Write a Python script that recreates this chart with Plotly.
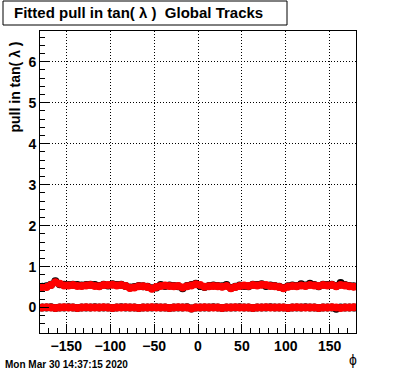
import plotly.graph_objects as go

phi_centers = [-177.5 + 5 * i for i in range(72)]

pull_mean_red = [0.50, 0.50, 0.55, 0.62, 0.58, 0.54, 0.54, 0.55, 0.53, 0.53,
                 0.54, 0.55, 0.53, 0.52, 0.55, 0.55, 0.56, 0.54, 0.55, 0.53,
                 0.48, 0.49, 0.52, 0.52, 0.50, 0.46, 0.50, 0.53, 0.54, 0.53,
                 0.52, 0.53, 0.49, 0.52, 0.54, 0.57, 0.55, 0.51, 0.52, 0.53,
                 0.52, 0.51, 0.53, 0.47, 0.50, 0.53, 0.54, 0.53, 0.55, 0.54,
                 0.56, 0.55, 0.53, 0.52, 0.50, 0.47, 0.51, 0.53, 0.52, 0.54,
                 0.53, 0.55, 0.54, 0.53, 0.55, 0.54, 0.55, 0.52, 0.55, 0.54,
                 0.52, 0.51]

pull_mean_black = [0.51, 0.52, 0.56, 0.64, 0.57, 0.56, 0.55, 0.56, 0.55, 0.54,
                   0.55, 0.56, 0.55, 0.53, 0.56, 0.54, 0.57, 0.55, 0.56, 0.53,
                   0.49, 0.50, 0.53, 0.52, 0.51, 0.47, 0.49, 0.55, 0.53, 0.54,
                   0.53, 0.52, 0.47, 0.53, 0.55, 0.58, 0.53, 0.50, 0.53, 0.54,
                   0.53, 0.52, 0.55, 0.48, 0.51, 0.54, 0.53, 0.52, 0.56, 0.55,
                   0.57, 0.53, 0.54, 0.53, 0.51, 0.48, 0.52, 0.54, 0.53, 0.57,
                   0.54, 0.58, 0.55, 0.52, 0.56, 0.55, 0.56, 0.53, 0.60, 0.55,
                   0.53, 0.52]

pull_zero_red = [0.00, 0.01, 0.00, -0.01, 0.00, 0.01, 0.00, 0.00, -0.01, 0.00,
                 0.01, 0.00, 0.00, 0.00, 0.01, 0.00, -0.01, 0.00, 0.00, 0.01,
                 0.00, 0.00, -0.01, 0.00, 0.00, 0.01, 0.00, 0.00, 0.00, -0.01,
                 0.00, 0.01, 0.00, 0.00, -0.02, 0.00, 0.00, 0.01, 0.00, 0.00,
                 0.00, -0.01, 0.00, 0.00, 0.01, 0.00, 0.00, 0.00, -0.01, 0.00,
                 0.00, 0.01, 0.00, 0.00, 0.00, 0.00, -0.01, 0.00, 0.01, 0.00,
                 0.00, 0.00, 0.00, -0.01, 0.00, 0.00, 0.01, 0.00, -0.01, 0.00,
                 0.00, 0.01]

pull_zero_black = [0.00, 0.00, 0.01, -0.01, 0.00, 0.00, 0.01, 0.00, -0.01, 0.00,
                   0.00, 0.00, 0.01, 0.00, 0.00, 0.00, -0.01, 0.00, 0.01, 0.00,
                   0.00, 0.00, -0.01, 0.00, 0.00, 0.00, 0.01, 0.00, 0.00, -0.01,
                   0.00, 0.00, 0.00, 0.01, -0.02, 0.00, 0.00, 0.00, 0.00, 0.01,
                   0.00, -0.01, 0.00, 0.00, 0.00, 0.01, 0.00, 0.00, -0.01, 0.00,
                   0.00, 0.00, 0.01, 0.00, 0.00, 0.00, -0.01, 0.00, 0.00, 0.00,
                   0.01, 0.00, 0.00, -0.01, 0.00, 0.00, 0.00, -0.03, 0.00, 0.00,
                   0.00, 0.00]

x_tick_vals = [-150, -100, -50, 0, 50, 100, 150]
y_tick_vals = [0, 1, 2, 3, 4, 5, 6]

title_text = "Fitted pull in tan( λ )  Global Tracks"
y_title = "pull in tan( λ )"
x_title = "ϕ"
date_text = "Mon Mar 30 14:37:15 2020"

W, H = 396, 372
ML, MR, MT, MB = 40, 40, 31, 39
PW, PH = W - ML - MR, H - MT - MB

def px(xp):
    return (xp - ML) / PW

def py(yp):
    return (H - MB - yp) / PH

FONT = "Liberation Sans, Arial, sans-serif"

fig = go.Figure()
for yv, col in [(pull_mean_black, "black"), (pull_zero_black, "black"),
                (pull_mean_red, "#ff0000"), (pull_zero_red, "#ff0000")]:
    fig.add_trace(go.Scatter(
        x=phi_centers, y=yv, mode="markers",
        marker=dict(symbol="circle", size=8, color=col, line=dict(width=0)),
        showlegend=False, hoverinfo="skip"))

axis_common = dict(
    ticks="inside", ticklen=9, tickcolor="black", tickwidth=1,
    showgrid=True, gridcolor="black", griddash="1px,2px", gridwidth=1,
    showline=True, linecolor="black", linewidth=1, mirror=True,
    zeroline=False,
    tickfont=dict(family=FONT, size=14, color="black", weight="bold"),
)

fig.update_layout(
    width=W, height=H,
    margin=dict(l=ML, r=MR, t=MT, b=MB, pad=0),
    paper_bgcolor="white", plot_bgcolor="white",
    showlegend=False,
    xaxis=dict(range=[-180, 180], tickvals=x_tick_vals,
               minor=dict(dtick=10, tick0=0, ticks="inside", ticklen=5,
                          tickcolor="black", showgrid=False),
               **axis_common),
    yaxis=dict(range=[-0.62, 6.75], tickvals=y_tick_vals,
               minor=dict(dtick=0.2, tick0=0, ticks="inside", ticklen=5,
                          tickcolor="black", showgrid=False),
               **axis_common),
)

fig.add_shape(type="rect", xref="paper", yref="paper",
              x0=px(3), x1=px(287), y0=py(25), y1=py(1),
              line=dict(color="black", width=1), fillcolor="white", layer="above")
fig.add_annotation(xref="paper", yref="paper", x=px(12), y=py(13),
                   xanchor="left", yanchor="middle", showarrow=False,
                   text=title_text,
                   font=dict(family=FONT, size=15, color="black", weight="bold"))
fig.add_annotation(xref="paper", yref="paper", x=px(14), y=py(40),
                   xanchor="center", yanchor="top", showarrow=False,
                   textangle=-90, text=y_title,
                   font=dict(family=FONT, size=14, color="black", weight="bold"))
fig.add_annotation(xref="paper", yref="paper", x=px(353), y=py(360),
                   xanchor="center", yanchor="middle", showarrow=False,
                   text=x_title,
                   font=dict(family=FONT, size=14, color="black"))
fig.add_annotation(xref="paper", yref="paper", x=px(3), y=py(364),
                   xanchor="left", yanchor="middle", showarrow=False,
                   text=date_text,
                   font=dict(family=FONT, size=10, color="black", weight="bold"))

fig.write_html("out.html", config={"displayModeBar": False},
               post_script="document.body.style.margin='0';document.body.style.padding='0';document.body.style.overflow='hidden';")
